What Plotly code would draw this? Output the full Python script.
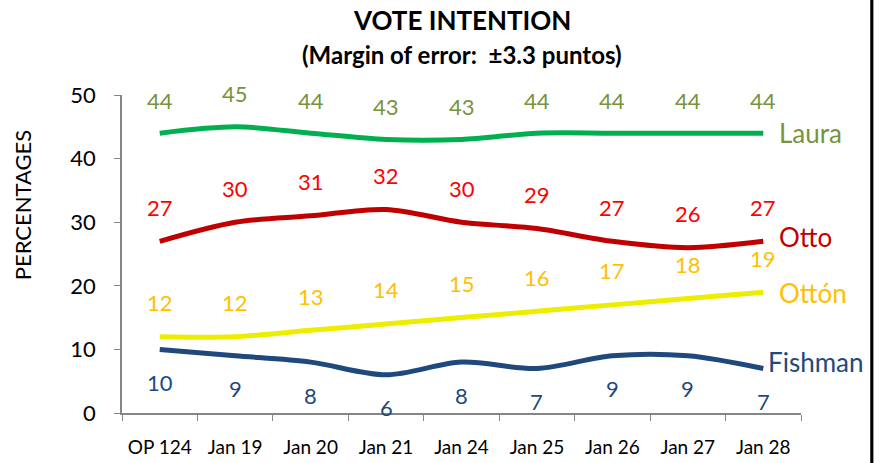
import plotly.graph_objects as go

categories = ["OP 124", "Jan 19", "Jan 20", "Jan 21", "Jan 24", "Jan 25", "Jan 26", "Jan 27", "Jan 28"]
laura = [44, 45, 44, 43, 43, 44, 44, 44, 44]
otto = [27, 30, 31, 32, 30, 29, 27, 26, 27]
otton = [12, 12, 13, 14, 15, 16, 17, 18, 19]
fishman = [10, 9, 8, 6, 8, 7, 9, 9, 7]

series = [
    ("Laura", laura, "#00B050", "#77933C", "#77933C", -33, 0, 14),
    ("Otto", otto, "#C00000", "#FF0000", "#C00000", -34, 4, 14),
    ("Ottón", otton, "#EDED00", "#FFC000", "#FFC000", -34, -1, 14),
    ("Fishman", fishman, "#1F497D", "#1F497D", "#1F497D", 33, 6, 3),
]

FONT = "Lato"
fig = go.Figure()
annotations = []
for name, vals, lc, tc, nc, off, nshift, xs in series:
    fig.add_trace(go.Scatter(
        x=categories, y=vals, mode="lines", name=name,
        line=dict(color=lc, width=5, shape="spline", smoothing=0.9),
        hoverinfo="x+y+name", showlegend=False,
    ))
    for c, v in zip(categories, vals):
        annotations.append(dict(
            x=c, y=v, xref="x", yref="y", text=str(v), showarrow=False,
            yshift=-off, font=dict(family=FONT, size=22, color=tc),
        ))
    annotations.append(dict(
        x=categories[-1], y=vals[-1], xref="x", yref="y", text=name, showarrow=False,
        xanchor="left", xshift=xs, yshift=nshift,
        font=dict(family=FONT, size=26, color=nc),
    ))

# titles
annotations.append(dict(
    x=0.5, y=1.236, xref="paper", yref="paper", text="<b>VOTE INTENTION</b>",
    showarrow=False, font=dict(family=FONT, size=26, color="black"), yanchor="middle",
))
annotations.append(dict(
    x=0.5, y=1.126, xref="paper", yref="paper", text="<b>(Margin of error: \u00a0±3.3 puntos)</b>",
    showarrow=False, font=dict(family=FONT, size=24, color="black"), yanchor="middle",
))
annotations.append(dict(
    x=-0.147, y=0.654, xref="paper", yref="paper", text="PERCENTAGES", textangle=-90,
    showarrow=False, font=dict(family=FONT, size=22, color="black"),
    xanchor="center", yanchor="middle",
))

fig.update_layout(
    width=881, height=463,
    margin=dict(l=122, r=80, t=95, b=50),
    paper_bgcolor="white", plot_bgcolor="white",
    font=dict(family=FONT, color="black"),
    xaxis=dict(
        type="category", showgrid=False, showline=True, linecolor="#868686", linewidth=1.5,
        ticks="outside", tickson="boundaries", ticklen=6, tickcolor="#868686",
        tickfont=dict(family=FONT, size=19, color="black"), range=[-0.5, 8.5],
        ticklabelstandoff=16, automargin=False,
    ),
    yaxis=dict(
        range=[0, 50], tickvals=[0, 10, 20, 30, 40, 50], showgrid=False, zeroline=False,
        showline=True, linecolor="#868686", linewidth=1.5, ticks="outside", ticklen=6,
        tickcolor="#868686", tickfont=dict(family=FONT, size=22, color="black"),
        ticklabelstandoff=14, automargin=False,
    ),
    annotations=annotations,
    shapes=[dict(type="rect", xref="paper", yref="paper", x0=1.102, x1=1.1066,
                 y0=-0.16, y1=1.3, fillcolor="black", line=dict(width=0), layer="above")],
)

fig.write_html("out.html", post_script="document.body.style.margin='0px';",
               config={"displayModeBar": False})
